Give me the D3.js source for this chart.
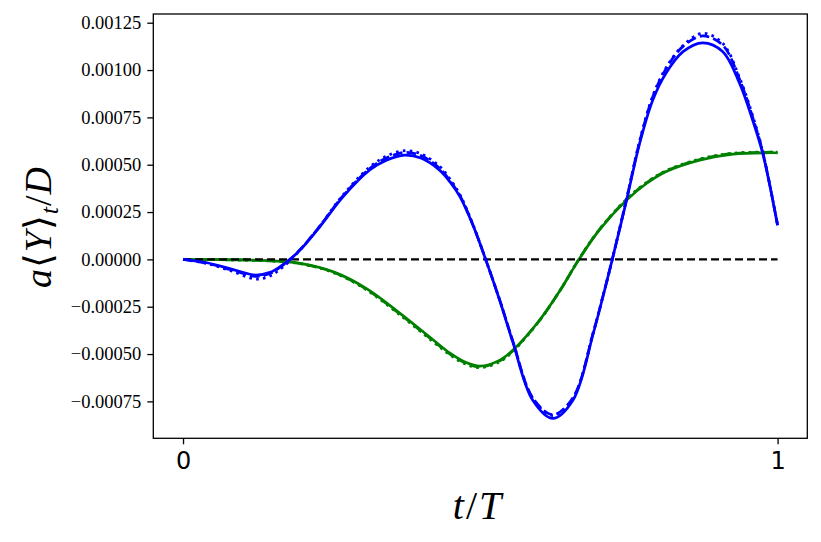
<!DOCTYPE html>
<html>
<head>
<meta charset="utf-8">
<script src="https://cdn.jsdelivr.net/npm/d3@7"></script>
<style>
    body { margin: 0; background: #fff; }
    svg { display: block; }
</style>
</head>
<body>
<div id="container"></div>
<script>
// time grid and series values
const blueT = [0, 0.04, 0.08, 0.122, 0.145, 0.165, 0.18, 0.2, 0.23, 0.269, 0.314, 0.342, 0.373, 0.40, 0.432,
    0.45, 0.466, 0.487, 0.509, 0.533, 0.555, 0.588, 0.622, 0.656, 0.69, 0.706, 0.722, 0.746, 0.768, 0.79,
    0.812, 0.841, 0.874, 0.908, 0.936, 0.958, 0.975, 1.0];
const blueSolid = [0, -0.000018, -0.00005, -0.000083, -0.00007, -0.000035, 0, 0.00006, 0.000172, 0.00033,
    0.000472, 0.000524, 0.000551, 0.000535, 0.00047, 0.000405, 0.00033, 0.000185, 0, -0.00022, -0.00044,
    -0.000743, -0.00084, -0.000743, -0.000391, -0.0002, 0, 0.000313, 0.000613, 0.000841, 0.000982, 0.001097,
    0.001144, 0.001097, 0.00093, 0.000736, 0.00056, 0.00018];
const blueDashed = [0, -0.00002, -0.000055, -0.00009, -0.000076, -0.000038, 0, 0.000062, 0.000175, 0.000335,
    0.00048, 0.000535, 0.000565, 0.000548, 0.00048, 0.000412, 0.000335, 0.000187, 0, -0.000218, -0.000434,
    -0.00073, -0.00082, -0.00073, -0.000386, -0.000198, 0, 0.000318, 0.000622, 0.000858, 0.001005, 0.001125,
    0.00118, 0.00113, 0.000952, 0.000752, 0.000568, 0.00018];
const blueDotted = [0, -0.000022, -0.00006, -0.000104, -0.00009, -0.000048, -0.000006, 0.00006, 0.000176, 0.00034,
    0.000488, 0.000545, 0.000574, 0.000558, 0.00049, 0.00042, 0.00034, 0.00019, 0, -0.000218, -0.000436,
    -0.000732, -0.000825, -0.000732, -0.000386, -0.000198, 0, 0.00032, 0.000625, 0.000862, 0.00101, 0.00113,
    0.001194, 0.00114, 0.00096, 0.00076, 0.00057, 0.000182];

const greenT = [0, 0.05, 0.1, 0.15, 0.197, 0.253, 0.308, 0.365, 0.421, 0.449, 0.475, 0.499, 0.533, 0.555, 0.6,
    0.634, 0.666, 0.701, 0.746, 0.78, 0.812, 0.869, 0.925, 1.0];
const greenSolid = [0, -0.000001, -0.000003, -0.000008, -0.000021, -0.000066, -0.000153, -0.000285, -0.000426,
    -0.000495, -0.000543, -0.000564, -0.000532, -0.000479, -0.00032, -0.000165, 0, 0.000158, 0.000313, 0.000402,
    0.000463, 0.000524, 0.000556, 0.000563];
const greenDashed = [0, -0.000001, -0.000003, -0.000008, -0.000022, -0.000068, -0.000157, -0.00029, -0.000431,
    -0.0005, -0.000548, -0.000568, -0.000536, -0.000482, -0.000321, -0.000165, 0.000001, 0.00016, 0.000316,
    0.000405, 0.000466, 0.000527, 0.000559, 0.000566];
const greenDotted = [0, -0.000001, -0.000004, -0.000009, -0.000023, -0.00007, -0.00016, -0.000294, -0.000436,
    -0.000505, -0.000553, -0.000572, -0.00054, -0.000485, -0.000322, -0.000164, 0.000002, 0.000161, 0.000318,
    0.000407, 0.000468, 0.00053, 0.000561, 0.000567];

const zeroT = [0, 1];
const zeroLine = [0, 0];

const yTicks = [-0.00075, -0.0005, -0.00025, 0, 0.00025, 0.0005, 0.00075, 0.001, 0.00125];
const xTicks = [0, 1];

const WIDTH = 821;
const HEIGHT = 542;
const margin = {left: 153.3, right: 13.7, top: 14, bottom: 103.7};
const innerWidth = WIDTH - margin.left - margin.right;
const innerHeight = HEIGHT - margin.top - margin.bottom;

const svg = d3.select('#container')
    .append('svg')
    .attr('width', WIDTH)
    .attr('height', HEIGHT)
    .style('background', '#fff');

const g = svg.append('g')
    .attr('transform', `translate(${margin.left},${margin.top})`);

// scales
const xScale = d3.scaleLinear().domain([-0.05, 1.05]).range([0, innerWidth]);
const yScale = d3.scaleLinear().domain([-0.000945, 0.001296]).range([innerHeight, 0]);

const line = d3.line()
    .x(d => xScale(d[0]))
    .y(d => yScale(d[1]))
    .curve(d3.curveCatmullRom.alpha(0.5));

const zip = (ts, vs) => ts.map((t, i) => [t, vs[i]]);

const series = [
    {t: greenT, v: greenDotted, color: '#008000', dash: '2.6,4.3', width: 2.7},
    {t: greenT, v: greenDashed, color: '#008000', dash: '9.6,4.2', width: 2.7},
    {t: greenT, v: greenSolid, color: '#008000', dash: null, width: 2.7},
    {t: zeroT, v: zeroLine, color: '#000000', dash: '8,4', width: 2.2},
    {t: blueT, v: blueDotted, color: '#0000ff', dash: '2.6,4.3', width: 2.7},
    {t: blueT, v: blueDashed, color: '#0000ff', dash: '9.6,4.2', width: 2.7},
    {t: blueT, v: blueSolid, color: '#0000ff', dash: null, width: 2.7}
];

g.selectAll('.series')
    .data(series)
    .enter()
    .append('path')
    .attr('class', 'series')
    .attr('fill', 'none')
    .attr('stroke', d => d.color)
    .attr('stroke-width', d => d.width)
    .attr('stroke-dasharray', d => d.dash)
    .attr('d', d => line(zip(d.t, d.v)));

// axes
const yAxis = d3.axisLeft(yScale)
    .tickValues(yTicks)
    .tickFormat(d3.format('.5f'))
    .tickSize(6)
    .tickPadding(6);
const xAxis = d3.axisBottom(xScale)
    .tickValues(xTicks)
    .tickFormat(d3.format('d'))
    .tickSize(6)
    .tickPadding(8);

const yAxisG = g.append('g').call(yAxis);
yAxisG.select('.domain').remove();
yAxisG.selectAll('line').attr('stroke', '#000').attr('stroke-width', 1.3);
yAxisG.selectAll('text')
    .attr('fill', '#000')
    .style('font-family', '"Liberation Serif", "DejaVu Serif", serif')
    .style('font-size', '18.5px');

const xAxisG = g.append('g')
    .attr('transform', `translate(0,${innerHeight})`)
    .call(xAxis);
xAxisG.select('.domain').remove();
xAxisG.selectAll('line').attr('stroke', '#000').attr('stroke-width', 1.3);
xAxisG.selectAll('text')
    .attr('fill', '#000')
    .style('font-family', '"DejaVu Sans", sans-serif')
    .style('font-size', '24px');

// frame
g.append('rect')
    .attr('x', 0)
    .attr('y', 0)
    .attr('width', innerWidth)
    .attr('height', innerHeight)
    .attr('fill', 'none')
    .attr('stroke', '#000')
    .attr('stroke-width', 1.3);

// axis labels
const labelFont = '"Liberation Serif", "DejaVu Serif", serif';
const xLabel = svg.append('text')
    .attr('x', 478)
    .attr('y', 519)
    .attr('text-anchor', 'middle')
    .style('font-family', labelFont)
    .style('font-size', '40px')
    .style('letter-spacing', '2px')
    .style('font-style', 'italic');
xLabel.append('tspan').text('t');
xLabel.append('tspan').style('font-style', 'normal').text('/');
xLabel.append('tspan').text('T');

const yLabel = svg.append('text')
    .attr('transform', 'translate(51,227) rotate(-90)')
    .attr('text-anchor', 'middle')
    .style('font-family', labelFont)
    .style('font-size', '38px')
    .style('letter-spacing', '1px');
yLabel.append('tspan').style('font-style', 'italic').text('a');
yLabel.append('tspan').text('⟨');
yLabel.append('tspan').style('font-style', 'italic').text('Y');
yLabel.append('tspan').text('⟩');
yLabel.append('tspan').style('font-style', 'italic').style('font-size', '26px').attr('dy', 7).text('t');
yLabel.append('tspan').attr('dy', -7).text('/');
yLabel.append('tspan').style('font-style', 'italic').text('D');
</script>
</body>
</html>
